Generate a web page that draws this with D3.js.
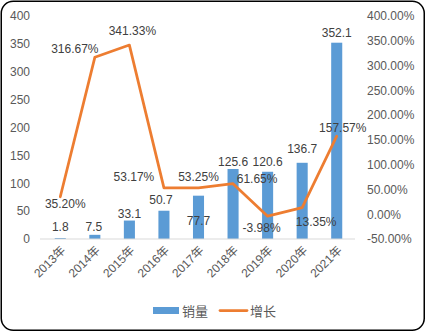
<!DOCTYPE html>
<html>
<head>
<meta charset="utf-8">
<script src="https://cdn.jsdelivr.net/npm/d3@7"></script>
<style>
  html, body { margin: 0; padding: 0; background: #fff; }
  svg { display: block; }
  text { font-family: "Liberation Sans", Arial, "Noto Sans CJK SC", sans-serif; }
</style>
</head>
<body>
<svg id="chart" width="426" height="332"></svg>
<script>
// Yearly sales and year-over-year growth
const years = ["2013年", "2014年", "2015年", "2016年", "2017年", "2018年", "2019年", "2020年", "2021年"];
const sales = [1.8, 7.5, 33.1, 50.7, 77.7, 125.6, 120.6, 136.7, 352.1];
const growth = [35.20, 316.67, 341.33, 53.17, 53.25, 61.65, -3.98, 13.35, 157.57]; // percent
const leftTicks = [0, 50, 100, 150, 200, 250, 300, 350, 400];
const rightTicks = [-50, 0, 50, 100, 150, 200, 250, 300, 350, 400];
const seriesNames = ["销量", "增长"];

// Label nudges (px) relative to each mark, to keep labels clear of the line and bars
const barLabelNudge = [[0, -11], [-1, -8], [0, -7], [-3, -11], [0, 25], [0, -7], [0, -10], [0, -14], [0, -10]];
const lineLabelNudge = [[5, 7], [-20, -8], [3, -14], [-30, -11], [0, -11], [24, -5], [-6, 12], [14, 14], [6, -8]];

const BLUE = "#5b9bd5", ORANGE = "#ed7d31";
const svg = d3.select("#chart");

// Outer frame
svg.append("rect")
  .attr("x", 1.25).attr("y", 1.25)
  .attr("width", 423).attr("height", 329)
  .attr("rx", 12).attr("ry", 12)
  .attr("fill", "#fff").attr("stroke", "#000").attr("stroke-width", 1.5);

const plot = { left: 43, right: 354, top: 16, bottom: 239 };

const x = d3.scalePoint().domain(years).range([plot.left, plot.right]).padding(0.5);
const yL = d3.scaleLinear().domain([0, 400]).range([plot.bottom, plot.top]);
const yR = d3.scaleLinear().domain([-50, 400]).range([plot.bottom, plot.top]);
const barW = x.step() * 0.32;

// Left axis
const axL = svg.append("g").attr("transform", `translate(33,0)`)
  .call(d3.axisLeft(yL).tickValues(leftTicks).tickSize(0).tickPadding(3));
axL.select(".domain").remove();
axL.selectAll("text").attr("fill", "#595959").attr("font-size", 12);

// Right axis
const axR = svg.append("g").attr("transform", `translate(364,0)`)
  .call(d3.axisRight(yR).tickValues(rightTicks).tickSize(0).tickPadding(3)
    .tickFormat(d => d.toFixed(2) + "%"));
axR.select(".domain").remove();
axR.selectAll("text").attr("fill", "#595959").attr("font-size", 12);

// Bars
svg.append("g").selectAll("rect").data(sales).join("rect")
  .attr("x", (d, i) => x(years[i]) - barW / 2)
  .attr("y", d => yL(d))
  .attr("width", barW)
  .attr("height", d => yL(0) - yL(d))
  .attr("fill", BLUE);

// Baseline
svg.append("line")
  .attr("x1", plot.left - 3).attr("x2", plot.right + 1)
  .attr("y1", yL(0)).attr("y2", yL(0))
  .attr("stroke", "#d9d9d9").attr("stroke-width", 1);

// Growth line
const line = d3.line().x((d, i) => x(years[i])).y(d => yR(d));
svg.append("path").datum(growth)
  .attr("d", line)
  .attr("fill", "none").attr("stroke", ORANGE)
  .attr("stroke-width", 2.75).attr("stroke-linejoin", "round").attr("stroke-linecap", "round");

// Bar value labels
svg.append("g").selectAll("text").data(sales).join("text")
  .attr("x", (d, i) => x(years[i]) + barLabelNudge[i][0])
  .attr("y", (d, i) => yL(d) + barLabelNudge[i][1])
  .attr("dy", "0.35em")
  .attr("text-anchor", "middle")
  .attr("font-size", 12).attr("fill", "#404040")
  .text(d => d);

// Growth value labels
svg.append("g").selectAll("text").data(growth).join("text")
  .attr("x", (d, i) => x(years[i]) + lineLabelNudge[i][0])
  .attr("y", (d, i) => yR(d) + lineLabelNudge[i][1])
  .attr("dy", "0.35em")
  .attr("text-anchor", "middle")
  .attr("font-size", 12).attr("fill", "#404040")
  .text(d => d.toFixed(2) + "%");

// Category labels, rotated
svg.append("g").selectAll("text").data(years).join("text")
  .attr("transform", d => `translate(${x(d) + 3},${plot.bottom + 9}) rotate(-45)`)
  .attr("dy", "0.35em")
  .attr("text-anchor", "end")
  .attr("font-size", 12).attr("fill", "#595959")
  .text(d => d);

// Legend
const lg = svg.append("g");
lg.append("rect").attr("x", 153).attr("y", 307).attr("width", 26).attr("height", 7).attr("fill", BLUE);
lg.append("text").attr("x", 182).attr("y", 311).attr("dy", "0.35em")
  .attr("font-size", 13).attr("fill", "#595959").text(seriesNames[0]);
lg.append("line").attr("x1", 220).attr("x2", 247).attr("y1", 310.5).attr("y2", 310.5)
  .attr("stroke", ORANGE).attr("stroke-width", 2.75).attr("stroke-linecap", "round");
lg.append("text").attr("x", 250).attr("y", 311).attr("dy", "0.35em")
  .attr("font-size", 13).attr("fill", "#595959").text(seriesNames[1]);
</script>
</body>
</html>
